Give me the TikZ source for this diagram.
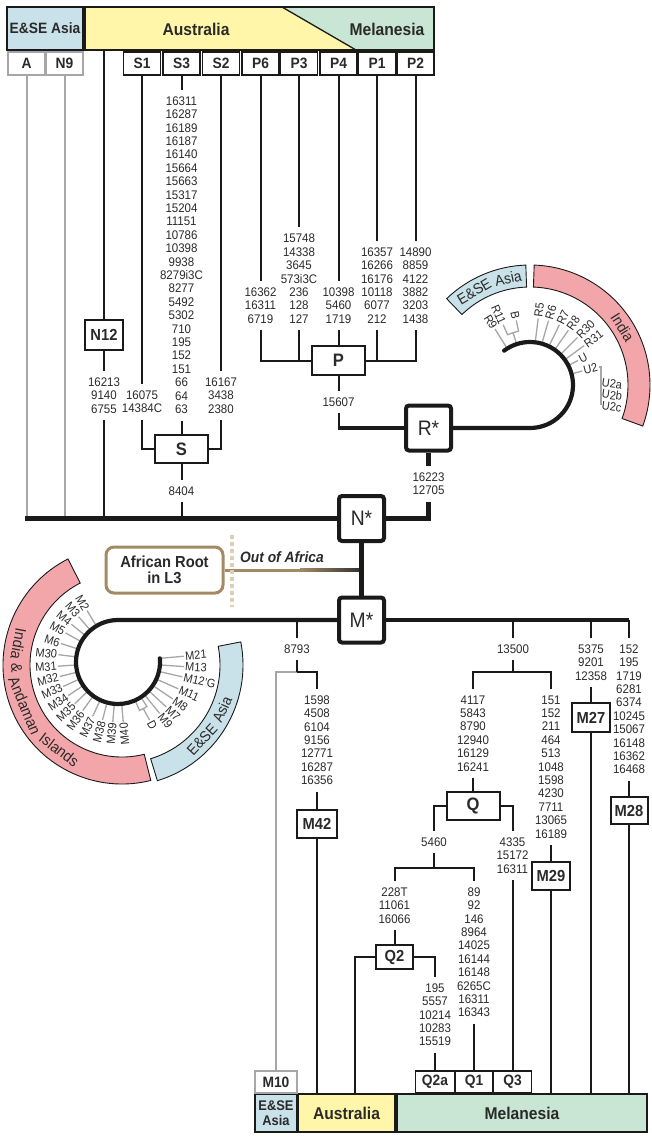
\documentclass[tikz,border=0pt]{standalone}
\usepackage{fontspec}
\setmainfont{Liberation Sans}[FakeStretch=0.92]
\usetikzlibrary{calc}
\definecolor{linec}{HTML}{1A1A1A}
\definecolor{grayc}{HTML}{A6A6A6}
\definecolor{bluec}{HTML}{C9E2EA}
\definecolor{yellowc}{HTML}{FFF6AA}
\definecolor{greenc}{HTML}{C8E6D3}
\definecolor{pinkc}{HTML}{F3A6AA}
\definecolor{brownc}{HTML}{A48A64}
\definecolor{dotc}{HTML}{DDCFB6}
\definecolor{txtc}{HTML}{2A2A2A}
\begin{document}
\begin{tikzpicture}[x=1pt,y=-1pt,
  ln/.style={draw=linec, line width=2},
  thk/.style={draw=linec, line width=4.2},
  gln/.style={draw=grayc, line width=2},
  tln/.style={draw=grayc, line width=1.3},
  numc/.style={anchor=north, align=center, inner sep=0, outer ysep=7, font=\fontsize{12.5}{13.4}\selectfont, text=txtc},
  labbox/.style={draw=linec, line width=1.5, fill=white, minimum width=37, minimum height=23, inner sep=0, font=\fontsize{15}{15}\selectfont\bfseries, text=txtc},
  hbox/.style={draw=linec, line width=2, fill=white, inner sep=0, font=\fontsize{16}{16}\selectfont\bfseries, text=txtc},
  bigl/.style={font=\fontsize{18}{18}\selectfont\bfseries},
  starbox/.style={draw=linec, line width=4, rounded corners=3, fill=white, minimum width=45, minimum height=45, inner sep=0, font=\fontsize{21}{21}\selectfont, text=txtc},
  arclab/.style={inner sep=0.8, font=\fontsize{12}{12}\selectfont, text=txtc},
  bandw/.style={inner sep=0, font=\fontsize{15}{15}\selectfont, text=txtc},
  barbox/.style={draw=linec, line width=1.2, inner sep=0, minimum height=38, font=\fontsize{17}{17}\selectfont\bfseries, text=txtc}
]
\useasboundingbox (0,0) rectangle (651,1138);

% ---------- header ----------
\fill[yellowc] (85,7) -- (282,7) -- (356,50) -- (85,50) -- cycle;
\fill[greenc] (282,7) -- (434,7) -- (434,50) -- (356,50) -- cycle;
\draw[linec, line width=1.3] (282,7) -- (356,50);
\node[draw=linec, line width=1.5, minimum width=349, minimum height=43, inner sep=0] (hdr) at (259.5,28.5) {};
\node[font=\fontsize{17}{17}\selectfont\bfseries, text=txtc] (hAus) at (196,29) {Australia};
\node[font=\fontsize{17}{17}\selectfont\bfseries, text=txtc] (hMel) at (387,29) {Melanesia};
\node[draw=linec, line width=1.5, fill=bluec, minimum width=76, minimum height=43, inner sep=0, font=\fontsize{15}{15}\selectfont\bfseries, text=txtc] (hAsia) at (45,28.5) {E\&SE Asia};

\node[labbox, draw=grayc] (Alab) at (26.5,63.5) {A};
\node[labbox, draw=grayc] (N9lab) at (64.5,63.5) {N9};
\node[labbox] (S1lab) at (142,63.5) {S1};
\node[labbox] (S3lab) at (181.5,63.5) {S3};
\node[labbox] (S2lab) at (221,63.5) {S2};
\node[labbox] (P6lab) at (260.5,63.5) {P6};
\node[labbox] (P3lab) at (299,63.5) {P3};
\node[labbox] (P4lab) at (338.5,63.5) {P4};
\node[labbox] (P1lab) at (377,63.5) {P1};
\node[labbox] (P2lab) at (415.5,63.5) {P2};

% ---------- N* level ----------
\coordinate (nl) at (24.5,518.5);
\node[starbox] (Nstar) at (361.5,518.5) {N*};
\draw[gln] (Alab.south) -- (Alab.south |- nl);
\draw[gln] (N9lab.south) -- (N9lab.south |- nl);
\draw[thk] (nl) -- (Nstar.west);

\coordinate (n12top) at (104,50);
\node[hbox, minimum width=38, minimum height=30] (N12) at (104,335) {N12};
\node[numc] (n12n) at (104,370.5) {16213\\9140\\6755};
\draw[ln] (n12top) -- (N12.north);
\draw[ln] (N12.south) -- (n12n.north);
\draw[ln] (n12n.south) -- (n12n.south |- nl);

% ---------- S ----------
\node[numc] (s3n) at (181.5,89.5) {16311\\16287\\16189\\16187\\16140\\15664\\15663\\15317\\15204\\11151\\10786\\10398\\9938\\8279i3C\\8277\\5492\\5302\\710\\195\\152\\151\\66\\64\\63};
\node[numc] (s1n) at (142,383.5) {16075\\14384C};
\node[numc] (s2n) at (221,370.5) {16167\\3438\\2380};
\node[hbox, bigl, minimum width=53, minimum height=28] (Sbox) at (181.5,449) {S};
\node[numc] (s8404) at (181.5,479.5) {8404};
\draw[ln] (S3lab.south) -- (s3n.north);
\draw[ln] (s3n.south) -- (Sbox.north);
\draw[ln] (S1lab.south) -- (s1n.north);
\draw[ln] (s1n.south) |- (Sbox.west);
\draw[ln] (S2lab.south) -- (s2n.north);
\draw[ln] (s2n.south) |- (Sbox.east);
\draw[ln] (Sbox.south) -- (s8404.north);
\draw[ln] (s8404.south) -- (s8404.south |- nl);

% ---------- P ----------
\node[numc] (p6n) at (260.5,280.5) {16362\\16311\\6719};
\node[numc] (p3n) at (299,227.1) {15748\\14338\\3645\\573i3C\\236\\128\\127};
\node[numc] (p4n) at (338.5,280.5) {10398\\5460\\1719};
\node[numc] (p1n) at (377,240.5) {16357\\16266\\16176\\10118\\6077\\212};
\node[numc] (p2n) at (415.5,240.5) {14890\\8859\\4122\\3882\\3203\\1438};
\node[hbox, bigl, minimum width=53, minimum height=29] (Pbox) at (338.5,360.5) {P};
\node[numc] (p15607) at (338.5,390.5) {15607};
\draw[ln] (P6lab.south) -- (p6n.north);
\draw[ln] (P3lab.south) -- (p3n.north);
\draw[ln] (P4lab.south) -- (p4n.north);
\draw[ln] (P1lab.south) -- (p1n.north);
\draw[ln] (P2lab.south) -- (p2n.north);
\draw[ln] (p6n.south) |- (Pbox.west);
\draw[ln] (p3n.south) -- (p3n.south |- Pbox.west);
\draw[ln] (p4n.south) -- (Pbox.north);
\draw[ln] (p1n.south) -- (p1n.south |- Pbox.east);
\draw[ln] (p2n.south) |- (Pbox.east);
\draw[ln] (Pbox.south) -- (p15607.north);

% ---------- R* ----------
\node[starbox] (Rstar) at (428.5,428) {R*};
\draw[ln] (p15607.south) -- (p15607.south |- Rstar.west);
\draw[thk] ([xshift=-1pt]p15607.south |- Rstar.west) -- (Rstar.west);
\node[numc] (r1n) at (428.5,465.5) {16223\\12705};
\draw[thk] (Rstar.south) -- (r1n.north);
\draw[thk] (r1n.south) |- (Nstar.east);

% R fan
\coordinate (rc) at (530,385);
\filldraw[fill=pinkc, draw=linec, line width=0.9] ($(rc)+(20:120)$) arc[start angle=20, end angle=-88, radius=120] -- ($(rc)+(-88:98)$) arc[start angle=-88, end angle=20, radius=98] -- cycle;
\filldraw[fill=bluec, draw=linec, line width=0.9] ($(rc)+(-92:120)$) arc[start angle=-92, end angle=-134, radius=120] -- ($(rc)+(-134:98)$) arc[start angle=-134, end angle=-92, radius=98] -- cycle;
\node[bandw, rotate=-58] (rInd) at ($(rc)+(-32:109)$) {India};
\node[bandw, rotate=30.8] (rEse) at ($(rc)+(-120.8:109)$) {E\&SE};
\node[bandw, rotate=11.5] (rAsia) at ($(rc)+(-101.5:109)$) {Asia};

\draw[tln] ($(rc)+(-122:45)$) -- ($(rc)+(-122:66)$) node[arclab,anchor=east,rotate=-58] (rR9) {R9};
\draw[tln] ($(rc)+(-108:45)$) -- ($(rc)+(-108:55)$) arc[start angle=-108, end angle=-114, radius=55] -- ($(rc)+(-114:66)$) node[arclab,anchor=east,rotate=-66] (rR11) {R11};
\draw[tln] ($(rc)+(-108:55)$) arc[start angle=-108, end angle=-102, radius=55] -- ($(rc)+(-102:66)$) node[arclab,anchor=east,rotate=-78] (rB) {B};
\foreach \a/\t [count=\i] in {-83/R5,-74/R6,-64/R7,-55/R8,-45/R30,-36/R31}{
  \draw[tln] ($(rc)+(\a:45)$) -- ($(rc)+(\a:67)$) node[arclab,anchor=west,rotate={-1*(\a)}] (rI\i) {\t};
}
\draw[tln] ($(rc)+(-27:45)$) -- ($(rc)+(-27:54)$) node[arclab,anchor=west,rotate=27] (rU) {U};
\draw[tln] ($(rc)+(-15:45)$) -- ($(rc)+(-15:54)$) node[arclab,anchor=west,rotate=14] (rU2) {U2};
\node[arclab,anchor=west,rotate=-8] (u2a) at (601,382) {U2a};
\node[arclab,anchor=west,rotate=-8] (u2b) at (601,393.5) {U2b};
\node[arclab,anchor=west,rotate=-8] (u2c) at (601,405) {U2c};
\draw[tln] (rU2.east) -| (u2c.west);
\draw[thk, line cap=round] (Rstar.east) -- ($(rc)+(90:43)$) arc[start angle=90, end angle=-127, radius=43];

% ---------- Out of Africa ----------
\node[draw=brownc, line width=3, rounded corners=8, minimum width=117, minimum height=46, align=center, inner sep=0, font=\fontsize{16}{16}\selectfont\bfseries, text=txtc] (afr) at (164.5,570) {African Root\\in L3};
\coordinate (oaj) at (300,570);
\draw[brownc, line width=3] (afr.east) -- (oaj);
\shade[left color=brownc, right color=linec!90] (300,568.5) rectangle (361.5,571.5);
\draw[dotc, line width=4.5, dash pattern=on 3.5pt off 3.5pt] (232,535) -- (232,607);
\node[font=\fontsize{15}{15}\selectfont\bfseries\itshape, anchor=west, text=txtc, inner sep=0] (ooa) at (240,557) {Out of Africa};

% ---------- M* ----------
\node[starbox] (Mstar) at (361.5,620) {M*};
\draw[thk] (Nstar.south) -- (Mstar.north);
\coordinate (mend) at (629,620);
\draw[thk] (Mstar.east) -- (mend);

\coordinate (mc) at (118,662);
\coordinate (bc) at (122,665);
\filldraw[fill=pinkc, draw=linec, line width=0.9] ($(bc)+(-117:119)$) arc[start angle=-117, end angle=-284, radius=119] -- ($(bc)+(-284:92)$) arc[start angle=-284, end angle=-117, radius=92] -- cycle;
\filldraw[fill=bluec, draw=linec, line width=0.9] ($(bc)+(73:121)$) arc[start angle=73, end angle=-11, radius=121] -- ($(bc)+(-11:98)$) arc[start angle=-11, end angle=73, radius=98] -- cycle;
\node[bandw, font=\fontsize{15.5}{15.5}\selectfont, rotate=-100.5] (mInd) at ($(bc)+(-168.5:105.5)$) {India};
\node[bandw, font=\fontsize{15.5}{15.5}\selectfont, rotate=-87.8] (mAmp) at ($(bc)+(-181.5:105.5)$) {\&};
\node[bandw, font=\fontsize{15.5}{15.5}\selectfont, rotate=-67.2] (mAnd) at ($(bc)+(-202.8:105.5)$) {Andaman};
\node[bandw, font=\fontsize{15.5}{15.5}\selectfont, rotate=-37.3] (mIsl) at ($(bc)+(-233.5:105.5)$) {Islands};
\node[bandw, rotate=47] (mEse) at ($(bc)+(43:109.5)$) {E\&SE};
\node[bandw, rotate=65.5] (mAsia) at ($(bc)+(24:109.5)$) {Asia};

\foreach \a/\t [count=\i] in {-121/M2,-131/M3,-141/M4,-151/M5,-162/M6,-173/M30,-184/M31,-194/M32,-204/M33,-214/M34,-224/M35,-234/M36,-245/M37,-255/M38,-265/M39,-275/M40}{
  \draw[tln] ($(mc)+(\a:44)$) -- ($(mc)+(\a:60)$) node[arclab,anchor=east,rotate={-1*(\a)-180}] (mL\i) {\t};
}
\foreach \a/\t [count=\i] in {-5/M21,4/M13,13/M12'G,24/M11,34/M8,43/M7,51/M9}{
  \draw[tln] ($(mc)+(\a:44)$) -- ($(mc)+(\a:66)$) node[arclab,anchor=west,rotate={-1*(\a)}] (mR\i) {\t};
}
\draw[tln] ($(mc)+(57:44)$) -- ($(mc)+(57:53)$) arc[start angle=57, end angle=66, radius=53] -- ($(mc)+(66:44)$);
\draw[tln] ($(mc)+(61.5:53)$) -- ($(mc)+(61.5:66)$) node[arclab,anchor=west,rotate=-61.5] (mD) {D};
\draw[thk, line cap=round] (Mstar.west) -- ($(mc)+(-90:42)$) arc[start angle=-90, end angle=-365, radius=42];

% ---------- bottom bar ----------
\node[barbox, fill=bluec, minimum width=42, align=center, font=\fontsize{14}{15}\selectfont\bfseries] (bAsia) at (276,1113) {E\&SE\\Asia};
\node[barbox, fill=yellowc, minimum width=97] (bAus) at (346.5,1113) {Australia};
\node[barbox, fill=greenc, minimum width=250] (bMel) at (522,1113) {Melanesia};

% ---------- 8793 / M42 / M10 ----------
\coordinate (j8793) at (297,620);
\coordinate (b8793) at (297,672);
\node[numc] (m8793) at (297,637.5) {8793};
\node[numc] (m42n) at (317,688.5) {1598\\4508\\6104\\9156\\12771\\16287\\16356};
\node[hbox, minimum width=40, minimum height=28] (M42) at (317,824) {M42};
\node[labbox, draw=grayc, minimum width=42, minimum height=22] (M10) at (276,1082) {M10};
\draw[ln] (j8793) -- (m8793.north);
\draw[gln] (b8793) -| (M10.north);
\draw[ln] (m8793.south) -- (b8793);
\draw[ln] (b8793) -| (m42n.north);
\draw[ln] (m42n.south) -- (M42.north);
\draw[ln] (M42.south) -- (M42.south |- bAus.north);

% ---------- 13500 / Q / M29 ----------
\coordinate (j13500) at (513,620);
\coordinate (b13500) at (513,672);
\node[numc] (m13500) at (513,637.5) {13500};
\node[numc] (qn) at (473,688.5) {4117\\5843\\8790\\12940\\16129\\16241};
\node[numc] (m29n) at (551,688.5) {151\\152\\211\\464\\513\\1048\\1598\\4230\\7711\\13065\\16189};
\node[hbox, bigl, minimum width=53, minimum height=28] (Qbox) at (473,806) {Q};
\node[hbox, minimum width=38, minimum height=28] (M29) at (551,876) {M29};
\draw[ln] (j13500) -- (m13500.north);
\draw[ln] (m13500.south) -- (b13500);
\draw[ln] (qn.north) |- (b13500) -| (m29n.north);
\draw[ln] (qn.south) -- (Qbox.north);
\draw[ln] (m29n.south) -- (M29.north);
\draw[ln] (M29.south) -- (M29.south |- bMel.north);

\coordinate (b5460) at (434,868);
\node[numc] (q5460) at (434,830.5) {5460};
\node[numc] (q3n) at (512.5,830.5) {4335\\15172\\16311};
\node[numc] (q2n) at (394.5,880.5) {228T\\11061\\16066};
\node[numc] (q1n) at (474,880.5) {89\\92\\146\\8964\\14025\\16144\\16148\\6265C\\16311\\16343};
\node[hbox, minimum width=37, minimum height=24] (Q2) at (394.5,957) {Q2};
\node[numc] (q2an) at (435,976.5) {195\\5557\\10214\\10283\\15519};
\node[labbox, minimum width=39, minimum height=22] (Q2a) at (435,1082) {Q2a};
\node[labbox, minimum width=37, minimum height=22] (Q1) at (474,1082) {Q1};
\node[labbox, minimum width=38, minimum height=22] (Q3) at (512.5,1082) {Q3};
\coordinate (q2l) at (355,1094);
\draw[ln] (Qbox.west) -| (q5460.north);
\draw[ln] (q5460.south) -- (b5460);
\draw[ln] (q2n.north) |- (b5460) -| (q1n.north);
\draw[ln] (Qbox.east) -| (q3n.north);
\draw[ln] (q3n.south) -- (Q3.north);
\draw[ln] (q1n.south) -- (Q1.north);
\draw[ln] (q2n.south) -- (Q2.north);
\draw[ln] (Q2.west) -| (q2l);
\draw[ln] (Q2.east) -| (q2an.north);
\draw[ln] (q2an.south) -- (Q2a.north);

% ---------- M27 / M28 ----------
\coordinate (j5375) at (591,620);
\node[numc] (m5375) at (591,637.5) {5375\\9201\\12358};
\node[hbox, minimum width=38, minimum height=29] (M27) at (591,717.5) {M27};
\node[numc] (m152) at (629,637.5) {152\\195\\1719\\6281\\6374\\10245\\15067\\16148\\16362\\16468};
\node[hbox, minimum width=37, minimum height=27] (M28) at (629,810.5) {M28};
\draw[ln] (j5375) -- (m5375.north);
\draw[ln] (m5375.south) -- (M27.north);
\draw[ln] (M27.south) -- (M27.south |- bMel.north);
\draw[ln] (mend) -- (m152.north);
\draw[ln] (m152.south) -- (M28.north);
\draw[ln] (M28.south) -- (M28.south |- bMel.north);
\end{tikzpicture}
\end{document}
